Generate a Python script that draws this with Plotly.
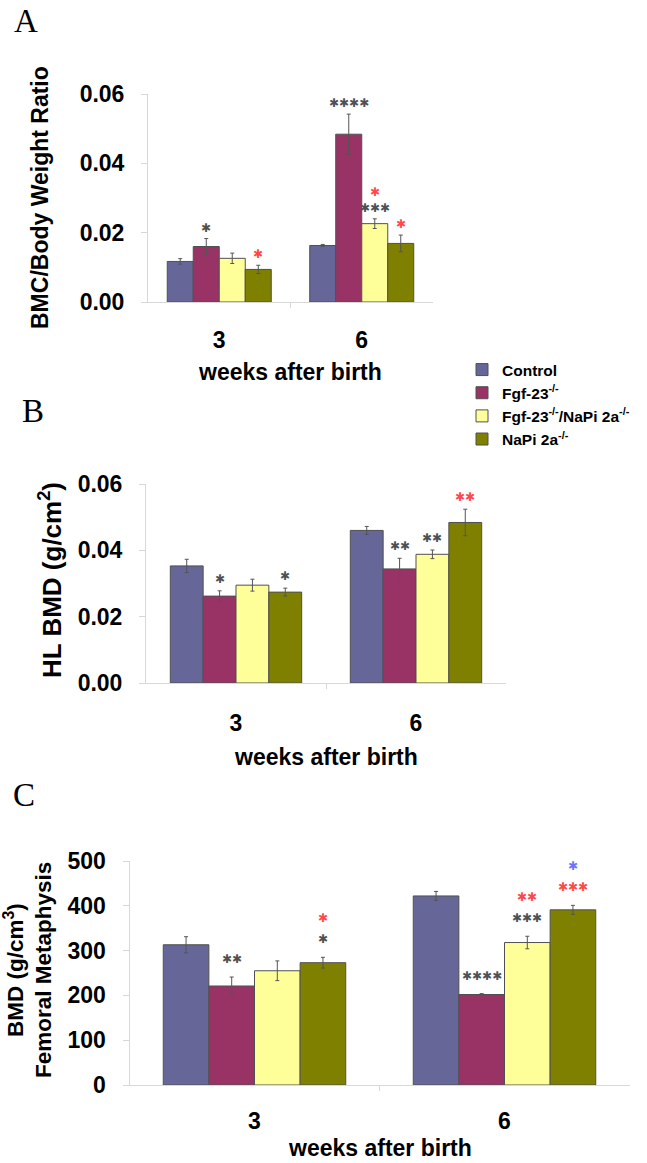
import plotly.graph_objects as go

# ---------------- data ----------------
weeks = ["3", "6"]
series_names = ["Control", "Fgf-23<sup>-/-</sup>", "Fgf-23<sup>-/-</sup>/NaPi 2a<sup>-/-</sup>", "NaPi 2a<sup>-/-</sup>"]
colors = ["#666699", "#993366", "#FFFF99", "#808000"]

# Panel A: BMC / body weight ratio
a_control = [0.0117, 0.0163]
a_fgf = [0.0160, 0.0484]
a_dko = [0.0126, 0.0226]
a_napi = [0.0094, 0.0169]
a_control_err = [0.0008, 0.0003]
a_fgf_err = [0.0023, 0.0058]
a_dko_err = [0.0015, 0.0014]
a_napi_err = [0.0012, 0.0024]

# Panel B: HL BMD (g/cm2)
b_control = [0.0353, 0.0460]
b_fgf = [0.0262, 0.0344]
b_dko = [0.0295, 0.0388]
b_napi = [0.0274, 0.0484]
b_control_err = [0.0020, 0.0012]
b_fgf_err = [0.0016, 0.0032]
b_dko_err = [0.0018, 0.0013]
b_napi_err = [0.0012, 0.0040]

# Panel C: BMD femoral metaphysis (g/cm3)
c_control = [313, 422]
c_fgf = [221, 202]
c_dko = [255, 318]
c_napi = [273, 391]
c_control_err = [18, 10]
c_fgf_err = [20, 2]
c_dko_err = [22, 14]
c_napi_err = [12, 10]

# significance marks: (week index, series index, number of asterisks, colour key, stack level)
sig_a = [(0, 1, 1, "k", 0), (0, 3, 1, "r", 0), (1, 1, 4, "k", 0),
         (1, 2, 3, "k", 0), (1, 2, 1, "r", 1), (1, 3, 1, "r", 0)]
sig_b = [(0, 1, 1, "k", 0), (0, 3, 1, "k", 0), (1, 1, 2, "k", 0),
         (1, 2, 2, "k", 0), (1, 3, 2, "r", 0)]
sig_c = [(0, 1, 2, "k", 0), (0, 3, 1, "k", 0), (0, 3, 1, "r", 1),
         (1, 1, 4, "k", 0), (1, 2, 3, "k", 0), (1, 2, 2, "r", 1),
         (1, 3, 3, "r", 0), (1, 3, 1, "b", 1)]
sig_colors = {"k": "#505050", "r": "#ff4848", "b": "#7070ff"}
STAR = "\u2731"

a_ticks = [0.00, 0.02, 0.04, 0.06]
b_ticks = [0.00, 0.02, 0.04, 0.06]
c_ticks = [0, 100, 200, 300, 400, 500]

# ---------------- figure ----------------
W, H = 647, 1163
BARGAP = 0.27
FONT = "Liberation Sans, Arial, sans-serif"
AX_GRAY = "#d8d8d8"

fig = go.Figure()
xpos = list(range(len(weeks)))

panels = [
    ("x", "y", [a_control, a_fgf, a_dko, a_napi], [a_control_err, a_fgf_err, a_dko_err, a_napi_err], True),
    ("x2", "y2", [b_control, b_fgf, b_dko, b_napi], [b_control_err, b_fgf_err, b_dko_err, b_napi_err], False),
    ("x3", "y3", [c_control, c_fgf, c_dko, c_napi], [c_control_err, c_fgf_err, c_dko_err, c_napi_err], False),
]

for xa, ya, vals, errs, show in panels:
    for i in range(4):
        fig.add_trace(go.Bar(
            x=xpos, y=vals[i], name=series_names[i], xaxis=xa, yaxis=ya,
            marker=dict(color=colors[i], line=dict(color="#505050", width=1)),
            error_y=dict(type="data", array=errs[i], visible=True, color="#555555", thickness=1, width=2),
            showlegend=show, legendgroup=f"g{i}",
        ))

def px_y(p):
    return 1 - p / H

def px_x(p):
    return p / W

axis_common = dict(showgrid=False, zeroline=False, showline=True, linecolor=AX_GRAY, linewidth=1,
                   automargin=False)
tickfont = dict(family=FONT, size=23, color="#000000", weight="bold")

def xaxis(dom, anchor, standoff):
    return dict(domain=dom, anchor=anchor, range=[-0.5, 1.5], tickvals=xpos, ticktext=weeks,
                ticks="", tickfont=tickfont, ticklabelstandoff=standoff,
                minor=dict(tickvals=[0.5], ticks="outside", ticklen=5, tickcolor=AX_GRAY),
                fixedrange=True, **axis_common)

def yaxis(dom, anchor, rng, tv, fmt):
    return dict(domain=dom, anchor=anchor, range=rng, tickvals=tv, tickformat=fmt,
                ticks="outside", ticklen=6, tickcolor=AX_GRAY, tickfont=tickfont,
                ticklabelstandoff=12, fixedrange=True, **axis_common)

fig.update_layout(
    template="none",
    width=W, height=H, margin=dict(l=0, r=0, t=0, b=0, pad=0, autoexpand=False),
    paper_bgcolor="white", plot_bgcolor="white",
    barmode="group", bargap=BARGAP, bargroupgap=0,
    xaxis=xaxis([px_x(148), px_x(433)], "y", 17),
    yaxis=yaxis([px_y(302), px_y(94)], "x", [0, 0.06], a_ticks, ".2f"),
    xaxis2=xaxis([px_x(146), px_x(506)], "y2", 19),
    yaxis2=yaxis([px_y(683), px_y(484)], "x2", [0, 0.06], b_ticks, ".2f"),
    xaxis3=xaxis([px_x(129.5), px_x(629.5)], "y3", 15),
    yaxis3=yaxis([px_y(1085), px_y(861)], "x3", [0, 500], c_ticks, "d"),
    legend=dict(x=px_x(462), y=px_y(353), xanchor="left", yanchor="top",
                font=dict(family=FONT, size=15.5, color="#000000", weight="bold"),
                itemwidth=30, tracegroupgap=3, bgcolor="rgba(0,0,0,0)",
                traceorder="normal"),
)

annotations = []
bw = (1 - BARGAP) / 4
for (xa, ya, vals, errs, _), sigs, base, step in zip(panels, [sig_a, sig_b, sig_c], [11, 12, 18], [16, 16, 21]):
    for wk, s, n, ck, lvl in sigs:
        annotations.append(dict(
            x=wk + (s - 1.5) * bw, y=vals[s][wk] + errs[s][wk], xref=xa, yref=ya,
            text=STAR * n, showarrow=False, yanchor="middle", xanchor="center",
            yshift=base + lvl * step,
            font=dict(family="DejaVu Sans", size=12, color=sig_colors[ck]),
        ))

title_font = dict(family=FONT, size=23, color="#000000", weight="bold")
title_font_b = dict(family=FONT, size=26, color="#000000", weight="bold")
title_font_c = dict(family=FONT, size=22.5, color="#000000", weight="bold")
letter_font = dict(family="Liberation Serif, Times New Roman, serif", size=33, color="#000000")

def paper_text(text, x, y, font, angle=0, xanchor="center"):
    annotations.append(dict(text=text, x=px_x(x), y=px_y(y), xref="paper", yref="paper",
                            showarrow=False, font=font, textangle=angle,
                            xanchor=xanchor, yanchor="middle"))

paper_text("A", 12, 21, letter_font, xanchor="left")
paper_text("B", 20, 411, letter_font, xanchor="left")
paper_text("C", 11, 795, letter_font, xanchor="left")

paper_text("weeks after birth", 290, 372, title_font)
paper_text("weeks after birth", 326, 757, title_font)
paper_text("weeks after birth", 380, 1148, title_font)

paper_text("BMC/Body Weight Ratio", 40, 198, title_font, angle=-90)
paper_text("HL BMD (g/cm<sup>2</sup>)", 50, 580, title_font_b, angle=-90)
paper_text("BMD (g/cm<sup>3</sup>)", 14, 970, title_font_c, angle=-90)
paper_text("Femoral Metaphysis", 43, 970, title_font_c, angle=-90)

fig.update_layout(annotations=annotations)
fig.write_html("out.html", config={"displayModeBar": False},
               post_script="document.body.style.margin='0';document.body.style.overflow='hidden';")
